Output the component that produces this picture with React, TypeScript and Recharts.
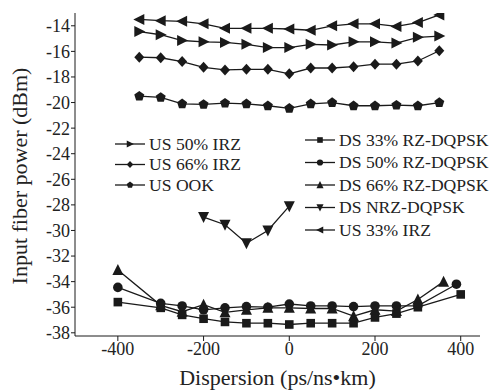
import { Line, LineChart, XAxis, YAxis } from "recharts";

// upstream sweep, -350..350 ps/ns·km
const usDispersion = [-350, -300, -250, -200, -150, -100, -50, 0, 50, 100, 150, 200, 250, 300, 350];
const us33Irz = [-13.5, -13.6, -13.65, -13.85, -14.2, -14.2, -14.2, -14.25, -14.35, -14.0, -13.85, -13.85, -14.05, -13.75, -13.15];
const us50Irz = [-14.45, -14.7, -15.15, -15.25, -15.3, -15.45, -15.7, -15.7, -15.45, -15.5, -15.25, -15.25, -15.35, -14.9, -14.8];
const us66Irz = [-16.45, -16.5, -16.8, -17.25, -17.45, -17.4, -17.4, -17.75, -17.3, -17.3, -17.2, -17.0, -17.0, -16.75, -15.95];
const usOok = [-19.5, -19.6, -20.1, -20.15, -20.05, -20.1, -20.25, -20.45, -20.1, -20.0, -20.25, -20.25, -20.2, -20.25, -20.0];

// downstream
const nrzDispersion = [-200, -150, -100, -50, 0];
const dsNrz = [-28.95, -29.55, -31.0, -30.0, -28.1];

const ds33Dispersion = [-400, -300, -250, -200, -150, -100, -50, 0, 50, 100, 150, 200, 250, 300, 400];
const ds33Rz = [-35.6, -36.05, -36.6, -36.9, -37.15, -37.25, -37.25, -37.35, -37.25, -37.25, -37.25, -36.8, -36.5, -36.0, -35.0];
const ds50Dispersion = [-400, -300, -250, -200, -150, -100, -50, 0, 50, 100, 150, 200, 250, 300, 390];
const ds50Rz = [-34.45, -35.7, -35.9, -36.2, -36.05, -35.95, -36.0, -35.75, -35.9, -35.9, -35.95, -35.9, -35.9, -35.9, -34.2];
const ds66Dispersion = [-400, -300, -250, -200, -150, -100, -50, 0, 50, 100, 150, 200, 250, 300, 360];
const ds66Rz = [-33.1, -35.85, -36.35, -35.8, -36.4, -36.2, -36.05, -36.05, -36.1, -36.1, -36.7, -36.2, -36.3, -35.4, -34.0];

const xTicks = [-400, -200, 0, 200, 400];
const yTicks = [-38, -36, -34, -32, -30, -28, -26, -24, -22, -20, -18, -16, -14];

type Shape = "left" | "right" | "up" | "down" | "diamond" | "pentagon" | "square" | "circle";

const zip = (xs: number[], ys: number[]) => xs.map((x, i) => ({ x, y: ys[i] }));

const series: { name: string; shape: Shape; data: { x: number; y: number }[] }[] = [
  { name: "US 33% IRZ", shape: "left", data: zip(usDispersion, us33Irz) },
  { name: "US 50% IRZ", shape: "right", data: zip(usDispersion, us50Irz) },
  { name: "US 66% IRZ", shape: "diamond", data: zip(usDispersion, us66Irz) },
  { name: "US OOK", shape: "pentagon", data: zip(usDispersion, usOok) },
  { name: "DS NRZ-DQPSK", shape: "down", data: zip(nrzDispersion, dsNrz) },
  { name: "DS 33% RZ-DQPSK", shape: "square", data: zip(ds33Dispersion, ds33Rz) },
  { name: "DS 50% RZ-DQPSK", shape: "circle", data: zip(ds50Dispersion, ds50Rz) },
  { name: "DS 66% RZ-DQPSK", shape: "up", data: zip(ds66Dispersion, ds66Rz) },
];

const INK = "#1a1a1a";
const FONT = "'Liberation Serif', 'Times New Roman', serif";

const Marker = ({ shape, cx, cy, s = 1 }: { shape: Shape; cx: number; cy: number; s?: number }) => {
  const pts = (arr: number[][]) => arr.map(([a, b]) => `${cx + a * s},${cy + b * s}`).join(" ");
  switch (shape) {
    case "left":
      return <polygon points={pts([[-6, 0], [5, -5.5], [5, 5.5]])} fill={INK} />;
    case "right":
      return <polygon points={pts([[6, 0], [-5, -5.5], [-5, 5.5]])} fill={INK} />;
    case "up":
      return <polygon points={pts([[0, -6], [-5.5, 5], [5.5, 5]])} fill={INK} />;
    case "down":
      return <polygon points={pts([[0, 6], [-5.5, -5], [5.5, -5]])} fill={INK} />;
    case "diamond":
      return <polygon points={pts([[0, -5.5], [5, 0], [0, 5.5], [-5, 0]])} fill={INK} />;
    case "pentagon":
      return <polygon points={pts([[0, -5.2], [5, -1.6], [3.1, 4.4], [-3.1, 4.4], [-5, -1.6]])} fill={INK} />;
    case "square":
      return <rect x={cx - 4.3 * s} y={cy - 4.3 * s} width={8.6 * s} height={8.6 * s} fill={INK} />;
    default:
      return <circle cx={cx} cy={cy} r={4.8 * s} fill={INK} />;
  }
};

const legendLeft = ["US 50% IRZ", "US 66% IRZ", "US OOK"];
const legendRight = ["DS 33% RZ-DQPSK", "DS 50% RZ-DQPSK", "DS 66% RZ-DQPSK", "DS NRZ-DQPSK", "US 33% IRZ"];

const LegendRow = ({ name, x, y }: { name: string; x: number; y: number }) => {
  const s = series.find((d) => d.name === name)!;
  return (
    <g>
      <line x1={x} x2={x + 30} y1={y} y2={y} stroke={INK} strokeWidth={1.3} />
      <Marker shape={s.shape} cx={x + 15} cy={y} s={0.65} />
      <text x={x + 34} y={y} dy="0.34em" fontSize={17.6} fontFamily={FONT} fill="#222">
        {name}
      </text>
    </g>
  );
};

export default function App() {
  return (
    <div style={{ position: "absolute", left: 0, top: 0, width: 494, height: 390, background: "#fff" }}>
      <LineChart width={494} height={390} margin={{ top: 13, right: 14, bottom: 0, left: 0 }}>
        <XAxis
          type="number"
          dataKey="x"
          domain={[-500, 445]}
          ticks={xTicks}
          interval={0}
          allowDataOverflow
          height={54}
          tickSize={5}
          tickMargin={1}
          stroke={INK}
          tick={{ fill: "#222", fontSize: 18, fontFamily: FONT }}
          label={{
            value: "Dispersion (ps/ns•km)",
            position: "insideBottom",
            offset: 5,
            fill: "#222",
            fontSize: 22,
            fontFamily: FONT,
          }}
        />
        <YAxis
          type="number"
          dataKey="y"
          domain={[-38.25, -13]}
          ticks={yTicks}
          interval={0}
          allowDataOverflow
          width={75}
          tickSize={4}
          tickMargin={1}
          stroke={INK}
          tick={{ fill: "#222", fontSize: 18, fontFamily: FONT }}
          label={{
            content: () => (
              <text
                transform="translate(22,176) rotate(-90)"
                textAnchor="middle"
                dominantBaseline="middle"
                fontSize={22}
                fontFamily={FONT}
                fill="#222"
              >
                Input fiber power (dBm)
              </text>
            ),
          }}
        />
        {series.map((s) => (
          <Line
            key={s.name}
            data={s.data}
            dataKey="y"
            name={s.name}
            type="linear"
            stroke={INK}
            strokeWidth={1.3}
            isAnimationActive={false}
            dot={(p: any) => <Marker key={`${s.name}-${p.index}`} shape={s.shape} cx={p.cx} cy={p.cy} />}
            activeDot={false}
          />
        ))}
      </LineChart>
      <svg width={494} height={390} style={{ position: "absolute", left: 0, top: 0, pointerEvents: "none" }}>
        {legendLeft.map((n, i) => (
          <LegendRow key={n} name={n} x={115} y={144 + i * 20.5} />
        ))}
        {legendRight.map((n, i) => (
          <LegendRow key={n} name={n} x={305} y={140 + i * 22.5} />
        ))}
      </svg>
    </div>
  );
}
